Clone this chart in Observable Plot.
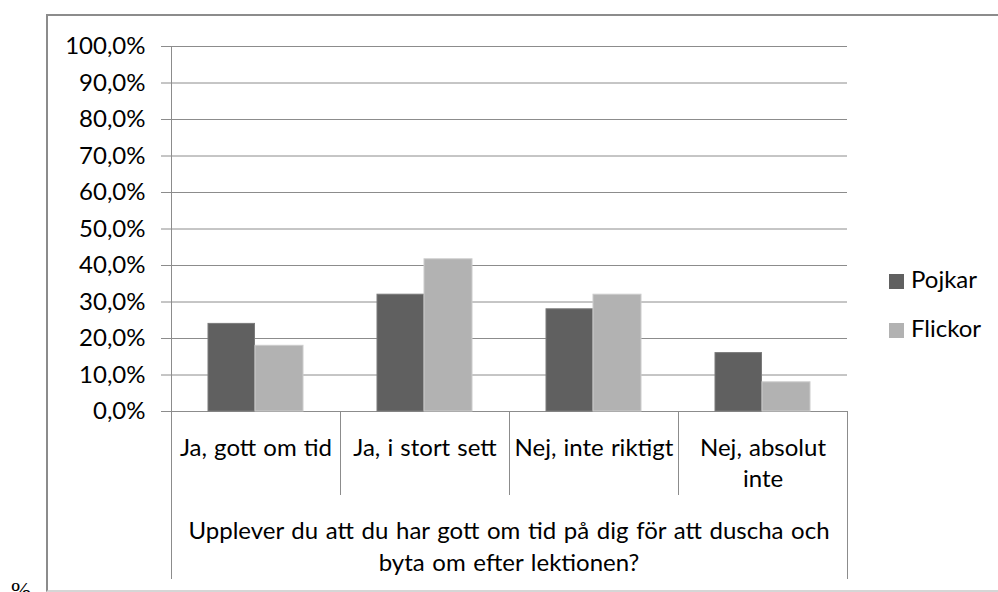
<!DOCTYPE html>
<html><head><meta charset="utf-8">
<script src="https://cdn.jsdelivr.net/npm/d3@7"></script>
<script src="https://cdn.jsdelivr.net/npm/@observablehq/plot@0.6"></script>
<style>
html,body{margin:0;padding:0;background:#fff;}
#wrap{position:relative;width:998px;height:592px;overflow:hidden;font-family:Lato,sans-serif;}
#chart{position:absolute;left:0;top:0;}
#frame{position:absolute;left:46px;top:14px;width:1000px;height:574px;border:2px solid #8c8c8c;border-bottom-color:#d6d6d6;}
.leg{position:absolute;left:889px;height:24px;font-size:24px;line-height:24px;color:#000;white-space:nowrap;}
.leg .sw{position:absolute;left:0;top:7px;width:15px;height:15px;}
.leg .lb{position:absolute;left:22px;top:0;}
#pct{position:absolute;left:11px;top:578px;font-family:"Liberation Serif",serif;font-size:24px;line-height:24px;color:#000;}
</style></head><body>
<div id="wrap"><div id="chart"></div><div id="frame"></div><div id="legend"></div><div id="pct">%.</div></div>
<script>
const categories = ["Ja, gott om tid", "Ja, i stort sett", "Nej, inte riktigt", "Nej, absolut inte"];
const catLabels = ["Ja, gott om tid", "Ja, i stort sett", "Nej, inte riktigt", "Nej, absolut\ninte"];
const series = ["Pojkar", "Flickor"];
const pojkar = [24, 32, 28, 16];
const flickor = [18, 41.7, 32, 8];
const yTicks = [0, 10, 20, 30, 40, 50, 60, 70, 80, 90, 100];
const yTickLabels = ["0,0%", "10,0%", "20,0%", "30,0%", "40,0%", "50,0%", "60,0%", "70,0%", "80,0%", "90,0%", "100,0%"];
const xTitle = "Upplever du att du har gott om tid på dig för att duscha och\nbyta om efter lektionen?";
const colors = ["#606060", "#b2b2b2"];
const strokes = ["#7a7a7a", "#cccccc"];

const rowsP = categories.map((c, i) => ({category: c, series: series[0], value: pojkar[i]}));
const rowsF = categories.map((c, i) => ({category: c, series: series[1], value: flickor[i]}));

function separators(index, scales, values, dimensions) {
  const {width, marginLeft, marginRight} = dimensions;
  const x = scales.x, y = scales.y;
  const bw = (x && x.bandwidth) ? x.bandwidth() : (width - marginLeft - marginRight) / categories.length;
  let starts = categories.map(c => x(c));
  if (Math.abs(starts[0] - marginLeft) > 1) starts = starts.map(s => s - bw / 2);
  const edges = [...starts, starts[starts.length - 1] + bw];
  const y0 = y(0), yTop = y(100);
  const g = d3.create("svg:g").attr("stroke", "#8c8c8c").attr("fill", "none");
  edges.forEach((e, i) => {
    const outer = i === 0 || i === edges.length - 1;
    const xx = Math.round(e) + 0.5;
    g.append("line").attr("x1", xx).attr("x2", xx)
      .attr("y1", i === 0 ? yTop : y0).attr("y2", y0 + (outer ? 168 : 84));
  });
  return g.node();
}

const chart = Plot.plot({
  width: 998, height: 592,
  marginLeft: 170, marginRight: 151, marginTop: 46, marginBottom: 181,
  style: {fontFamily: "Lato, sans-serif", fontSize: "24px", background: "transparent", color: "#000", overflow: "visible", wordSpacing: "1px"},
  x: {domain: categories, padding: 0, axis: null},
  y: {domain: [0, 100], axis: null},
  marks: [
    Plot.ruleY(yTicks, {stroke: "#8c8c8c", strokeOpacity: 1}),
    Plot.axisY(yTicks, {tickSize: 9, tickPadding: 16, tickFormat: d => yTickLabels[yTicks.indexOf(d)], stroke: "#8c8c8c", strokeOpacity: 1, fill: "#000", label: null}),
    Plot.barY(rowsP, {x: "category", y: "value", fill: colors[0], stroke: strokes[0], insetLeft: 37, insetRight: 85.5}),
    Plot.barY(rowsF, {x: "category", y: "value", fill: colors[1], stroke: strokes[1], insetLeft: 84, insetRight: 37}),
    separators,
    Plot.text(categories, {x: d => d, text: (d, i) => catLabels[i], frameAnchor: "bottom", lineAnchor: "top", dy: 22, lineHeight: 1.3, fill: "#000"}),
    Plot.text([xTitle], {text: d => d, frameAnchor: "bottom", lineAnchor: "top", dy: 105, lineHeight: 1.33, fill: "#000"})
  ]
});
document.getElementById("chart").appendChild(chart);
d3.select(chart).selectAll("text").filter(function() { return this.textContent.startsWith("Upplever"); }).style("word-spacing", "1.5px");

const legend = document.getElementById("legend");
const legTops = [267, 316];
series.forEach((s, i) => {
  const d = document.createElement("div");
  d.className = "leg";
  d.style.top = legTops[i] + "px";
  d.innerHTML = `<span class="sw" style="background:${colors[i]}"></span><span class="lb">${s}</span>`;
  legend.appendChild(d);
});
</script></body></html>
